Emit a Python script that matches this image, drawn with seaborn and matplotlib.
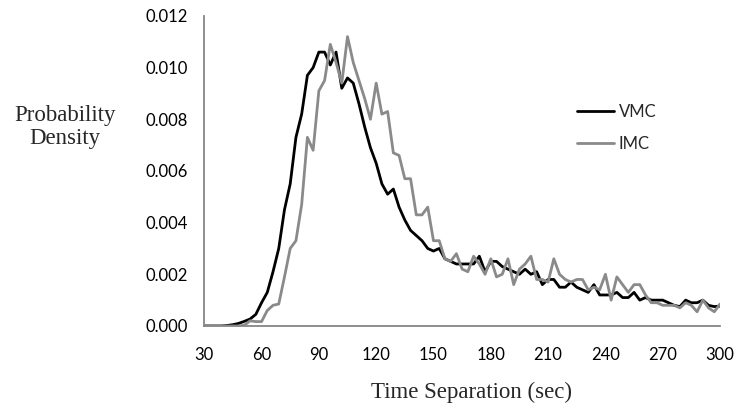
import numpy as np
import pandas as pd
import matplotlib
matplotlib.use("Agg")
import matplotlib.pyplot as plt
from matplotlib.lines import Line2D
import seaborn as sns

# Time separation bins (sec), 3-second spacing
time_sec = list(range(30, 301, 3))

vmc = [0.0, 0.0, 0.0, 0.0, 0.00002, 0.00005, 0.0001, 0.00018, 0.00027, 0.00045,
       0.0009, 0.0013, 0.0021, 0.0030, 0.0045, 0.0055, 0.0073, 0.0082, 0.0097, 0.0100,
       0.0106, 0.0106, 0.0101, 0.0106, 0.0092, 0.0096, 0.0094, 0.0086, 0.0077, 0.0069,
       0.0063, 0.0055, 0.0051, 0.0053, 0.0046, 0.0041, 0.0037, 0.0035, 0.0033, 0.0030,
       0.0029, 0.0030, 0.0026, 0.0025, 0.0024, 0.0024, 0.0024, 0.0024, 0.0027, 0.0021,
       0.0025, 0.0025, 0.0023, 0.0022, 0.0021, 0.0020, 0.0022, 0.0020, 0.0021, 0.0016,
       0.0018, 0.0018, 0.0015, 0.0015, 0.0017, 0.0015, 0.0014, 0.0013, 0.0016, 0.0012,
       0.0012, 0.0012, 0.0013, 0.0011, 0.0011, 0.0013, 0.0010, 0.0011, 0.0010, 0.0010,
       0.0010, 0.0009, 0.0008, 0.00075, 0.0010, 0.0009, 0.0009, 0.0010, 0.0008, 0.00075,
       0.00077]

imc = [0.0, 0.0, 0.0, 0.0, 0.0, 0.0, 0.0, 0.00003, 0.0002, 0.00017,
       0.00017, 0.0006, 0.0008, 0.00085, 0.0019, 0.0030, 0.0033, 0.0047, 0.0073, 0.0068,
       0.0091, 0.0095, 0.0109, 0.0102, 0.0094, 0.0112, 0.0102, 0.0095, 0.0088, 0.0080,
       0.0094, 0.0082, 0.0083, 0.0067, 0.0066, 0.0057, 0.0057, 0.0043, 0.0043, 0.0046,
       0.0033, 0.0033, 0.0026, 0.0025, 0.0028, 0.0022, 0.0021, 0.0027, 0.0024, 0.0020,
       0.0026, 0.0019, 0.0020, 0.0026, 0.0016, 0.0022, 0.0024, 0.0027, 0.0018, 0.0018,
       0.0017, 0.0026, 0.0020, 0.0018, 0.0017, 0.0018, 0.0018, 0.0014, 0.0015, 0.0014,
       0.0020, 0.0010, 0.0019, 0.0016, 0.0013, 0.0016, 0.0016, 0.0012, 0.0009, 0.0009,
       0.0008, 0.0008, 0.0008, 0.0007, 0.0009, 0.0008, 0.00055, 0.0010, 0.0007, 0.00055,
       0.00085]

series_names = ["VMC", "IMC"]
x_ticks = list(range(30, 301, 30))
y_ticks = [0.000, 0.002, 0.004, 0.006, 0.008, 0.010, 0.012]

df = pd.DataFrame({
    "time": time_sec * 2,
    "density": vmc + imc,
    "method": ["VMC"] * len(vmc) + ["IMC"] * len(imc),
})

sns.set_style("white")
plt.rcParams["font.family"] = ["Lato", "DejaVu Sans"]

colors = {"VMC": "#000000", "IMC": "#8a8a8a"}

fig = plt.figure(figsize=(7.40, 4.19), dpi=100)
ax = fig.add_axes([0.276, 0.222, 0.697, 0.740])

sns.lineplot(data=df, x="time", y="density", hue="method",
             hue_order=series_names, palette=colors,
             linewidth=2.0, ax=ax, legend=False)

ax.set_xlim(30, 300)
ax.set_ylim(0, 0.012)
ax.set_xticks(x_ticks)
ax.set_yticks(y_ticks)
ax.set_xticklabels([str(t) for t in x_ticks])
ax.set_yticklabels([f"{v:.3f}" for v in y_ticks])

axis_gray = "#868686"
for side in ["top", "right"]:
    ax.spines[side].set_visible(False)
for side in ["left", "bottom"]:
    ax.spines[side].set_color(axis_gray)
    ax.spines[side].set_linewidth(1.3)
ax.tick_params(axis="both", which="major", direction="out", length=5,
               width=1.2, color=axis_gray, labelsize=12, labelcolor="#000000")
ax.tick_params(axis="x", pad=10)
ax.tick_params(axis="y", pad=7)
ax.set_xlabel("")
ax.set_ylabel("")

serif = ["Liberation Serif", "DejaVu Serif"]
fig.text(65 / 740, 1 - 127 / 419, "Probability\nDensity", ha="center", va="center",
         family=serif, fontsize=16.5, linespacing=1.1)
fig.text(471 / 740, 1 - 392 / 419, "Time Separation (sec)", ha="center", va="center",
         family=serif, fontsize=16.5)

handles = [Line2D([], [], color=colors[n], lw=2.0) for n in series_names]
fig.legend(handles, series_names, loc="center left",
           bbox_to_anchor=(562 / 740, 1 - 128 / 419), frameon=False,
           fontsize=12, handlelength=2.2, handletextpad=0.3, labelspacing=1.0)

fig.savefig("out.png", dpi=100)
